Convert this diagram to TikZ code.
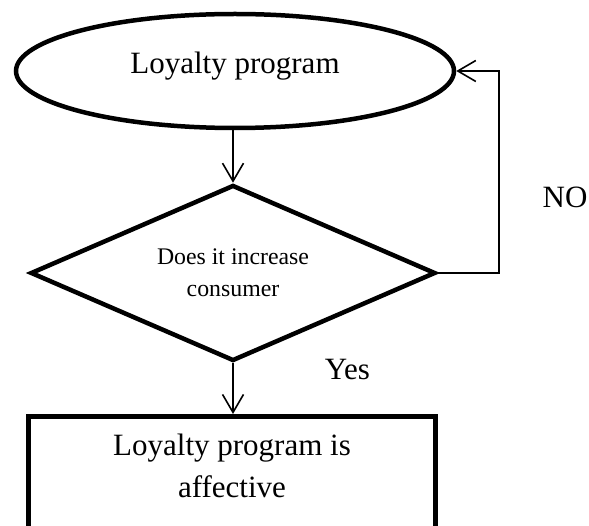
\documentclass[tikz,border=0pt]{standalone}
\usepackage{fontspec}
\setmainfont{Liberation Serif}
\usetikzlibrary{shapes.geometric,arrows.meta}
\tikzset{
  shapeline/.style={draw=black, line width=4.5pt},
  conn/.style={draw=black, line width=1.6pt,
    -{Straight Barb[length=18pt,width=21pt]}},
  bigtext/.style={font=\fontsize{31}{42}\selectfont},
  smalltext/.style={font=\fontsize{23.8}{32}\selectfont},
}
\begin{document}
\begin{tikzpicture}[x=1pt,y=-1pt]
\useasboundingbox (0,0) rectangle (589,526);

% start: ellipse
\node[shapeline, ellipse, minimum width=438pt, minimum height=114pt,
      inner sep=0pt, bigtext, text height=12pt, text depth=6pt]
  (ell) at (235,71) {Loyalty program};

% decision diamond
\node[shapeline, diamond, aspect=2.3, minimum width=405pt, minimum height=176pt,
      inner sep=0pt, smalltext, align=center]
  (dia) at (233,273) {Does it increase\\consumer};

% result box (runs past the lower edge)
\node[shapeline, rectangle, minimum width=407pt, minimum height=150pt,
      inner sep=0pt, anchor=north]
  (res) at (232,414) {};
\node[bigtext, align=center, inner sep=0pt] (restext) at (232,465.4)
  {Loyalty program is\\affective};

% connectors
\draw[conn] (ell.south -| dia.north) -- (dia.north);
\draw[conn] (dia.south) -- (dia.south |- res.north);
\coordinate (fbx) at (499,0);
\draw[conn] (dia.east) -- (dia.east -| fbx) -- (fbx |- ell.east) -- (ell.east);

% branch labels
\node[bigtext, anchor=base, inner sep=0pt] (yes) at (347.5,380) {Yes};
\node[bigtext, anchor=base, inner sep=0pt] (no) at (565,208) {NO};
\end{tikzpicture}
\end{document}
